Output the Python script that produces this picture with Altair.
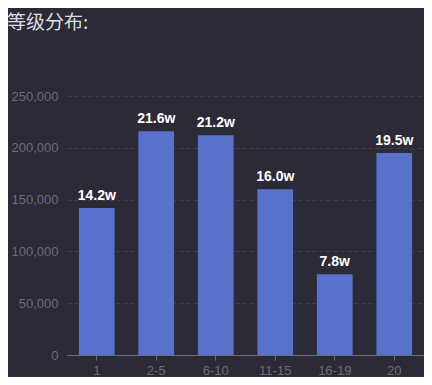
import altair as alt
import pandas as pd

categories = ["1", "2-5", "6-10", "11-15", "16-19", "20"]
values = [142000, 216000, 212000, 160000, 78000, 195000]

df = pd.DataFrame({"level": categories, "count": values})

FONT = "Liberation Sans, Noto Sans CJK SC, sans-serif"

base = alt.Chart(df).encode(
    x=alt.X("level:N", sort=categories, title=None,
            scale=alt.Scale(paddingInner=0.4, paddingOuter=0.2),
            axis=alt.Axis(labelAngle=0, labelColor="#6c6b78", labelFontSize=13,
                          domainColor="#6c6b78", tickColor="#6c6b78", tickSize=5,
                          labelPadding=4, labelFont=FONT)),
    y=alt.Y("count:Q", title=None,
            scale=alt.Scale(domain=[0, 250000]),
            axis=alt.Axis(values=[0, 50000, 100000, 150000, 200000, 250000], format=",d",
                          labelColor="#6c6b78", labelFontSize=13, labelFont=FONT,
                          domain=False, ticks=False, labelPadding=9,
                          gridColor="#3f3e52", gridDash=[4, 3], gridWidth=1)),
)

bars = base.mark_bar(color="#5872cc")
labels = base.transform_calculate(
    lab="format(datum.count / 10000, '.1f') + 'w'"
).mark_text(dy=-5, baseline="bottom", color="#ffffff", fontSize=14,
            fontWeight="bold", font=FONT).encode(text="lab:N")

chart = (bars + labels).properties(
    width=357, height=259,
    title=alt.Title("等级分布:", anchor="start", dx=-4, offset=57, fontSize=19,
                    fontWeight="normal", color="#dedde3", font="Noto Sans CJK SC"),
    autosize=alt.AutoSizeParams(type="none"),
    padding={"left": 59, "top": 88, "right": 0, "bottom": 22},
    background="#2b2a36",
).configure_view(stroke=None)

chart.save("out.html", embed_options={"renderer": "svg", "actions": False})
